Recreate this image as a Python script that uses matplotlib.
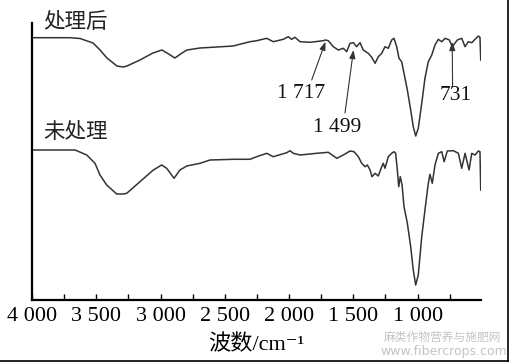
import matplotlib
matplotlib.use("Agg")
import matplotlib.pyplot as plt
from matplotlib.lines import Line2D
from matplotlib.ticker import FixedLocator, FuncFormatter

plt.rcParams['font.family'] = ['Liberation Serif', 'Noto Sans CJK SC', 'DejaVu Sans']

# ---- data (wavenumber cm^-1, transmittance in arbitrary units) ----
treated_wn = [4000, 3860, 3704, 3627, 3525, 3471, 3417, 3339, 3292, 3261, 3160, 3059,
              2989, 2950, 2888, 2833, 2794, 2693, 2561, 2436, 2304, 2252, 2174, 2123,
              2045, 2006, 1980, 1954, 1915, 1837, 1734, 1717, 1695, 1656, 1617, 1578,
              1552, 1526, 1499, 1475, 1448, 1423, 1384, 1357, 1331, 1306, 1279, 1254,
              1228, 1202, 1184, 1163, 1145, 1124, 1106, 1080, 1054, 1034, 1015, 995,
              968, 943, 917, 890, 865, 839, 812, 787, 753, 731, 691, 657, 631, 605,
              579, 553, 528, 515, 509]
treated_t = [262.3, 262.3, 262.3, 261.5, 257, 250, 242, 234, 233, 234, 240, 247,
             250, 247, 242, 247, 250, 252, 253, 254, 258.3, 259.3, 261.7, 258.3,
             260.7, 263.3, 260.7, 262.7, 258.3, 257.7, 259.3, 260, 259.3, 253.3, 250, 251.7,
             248.3, 256.7, 257.3, 253.3, 257.3, 250, 246.7, 242.7, 236.7, 243.3, 246.7, 253.3,
             251.7, 260, 261.7, 253.3, 241.7, 238.3, 226.7, 210, 190, 173.3, 164, 171.7,
             196.7, 221.7, 238.3, 245, 255, 260.7, 258.3, 261.7, 260, 253.3, 260, 261.7, 253.3, 258.3,
             257.3, 260.7, 264, 262.7, 240]

untreated_wn = [4000, 3782, 3665, 3574, 3510, 3471, 3419, 3341, 3290, 3263, 3160, 3056,
                2991, 2952, 2895, 2849, 2796, 2693, 2615, 2434, 2304, 2252, 2174, 2123,
                2018, 1993, 1967, 1915, 1785, 1695, 1629, 1578, 1526, 1495, 1461, 1435,
                1409, 1391, 1370, 1355, 1331, 1306, 1279, 1267, 1254, 1228, 1202, 1184,
                1171, 1158, 1147, 1135, 1121, 1106, 1080, 1054, 1034, 1015, 995, 968,
                943, 917, 904, 886, 865, 839, 812, 794, 769, 722, 683, 657, 631, 600,
                579, 553, 528, 515, 509]
untreated_t = [150, 150, 150, 145, 136.7, 125, 115, 106, 106, 106.7, 118.3, 130,
               135, 131.7, 121.7, 130, 134, 136.7, 140, 140.7, 140.7, 143.3, 146.7, 143.3,
               147.3, 149.3, 146.7, 145, 146.7, 147.7, 141.7, 145, 149, 148.3, 143.3, 136.7,
               133.3, 135, 130, 123.3, 126.7, 124, 133.3, 136.7, 131.7, 143.3, 146.7, 148.3,
               146.7, 130, 113.3, 123.3, 115, 93.3, 76.7, 53.3, 30, 15, 25, 63.3,
               90, 116.7, 125.7, 116.7, 135, 146.7, 148.3, 138.3, 149, 149.3, 146.7, 131.7, 146.7, 130,
               146.7, 145, 149, 148.3, 110]

major_ticks = [4000, 3500, 3000, 2500, 2000, 1500, 1000]
minor_ticks = [3750, 3250, 2750, 2250, 1750, 1250, 750]

peak_labels = ['1 717', '1 499', '731']
peak_wn = [1717, 1499, 731]
peak_tip_t = [258.3, 250, 258]
peak_start = [(1824, 220), (1565, 187), (728, 213)]
peak_text = [(1907, 207), (1627, 173), (701, 205)]

series_labels = ['处理后', '未处理']
series_label_pos = [(3914, 278), (3914, 168)]

# ---- figure ----
fig = plt.figure(figsize=(5.09, 3.62), dpi=100)
ax = fig.add_axes([32/509, 1-300/362, 449/509, 277/362])

line_color = '#333333'
ax.plot(treated_wn, treated_t, color=line_color, lw=1.1)
ax.plot(untreated_wn, untreated_t, color=line_color, lw=1.1)

ax.set_xlim(4000, 507)
ax.set_ylim(0, 277)

for s in ['top', 'right']:
    ax.spines[s].set_visible(False)
for s in ['left', 'bottom']:
    ax.spines[s].set_linewidth(1.6)
    ax.spines[s].set_color('black')

ax.set_yticks([])
ax.xaxis.set_major_locator(FixedLocator(major_ticks))
ax.xaxis.set_minor_locator(FixedLocator(minor_ticks))
ax.xaxis.set_major_formatter(FuncFormatter(lambda v, p: f"{int(v):,}".replace(',', ' ')))
ax.tick_params(axis='x', which='both', direction='in', length=4, width=1.0,
               labelsize=16, pad=5, colors='black')
ax.tick_params(axis='x', which='minor', length=4)

ax.set_xlabel('波数/cm\u207b\u00b9', fontsize=16,
              family=['Liberation Serif', 'Noto Sans CJK SC', 'DejaVu Sans'], labelpad=6)

for lab, (x, y) in zip(series_labels, series_label_pos):
    ax.text(x, y, lab, fontsize=15.5, family=['Noto Sans CJK SC'], color='#222222',
            ha='left', va='center', clip_on=False)

for lab, w, tt, st, tp in zip(peak_labels, peak_wn, peak_tip_t, peak_start, peak_text):
    ax.annotate('', xy=(w, tt), xytext=st,
                arrowprops=dict(arrowstyle='-|>,head_length=0.5,head_width=0.18',
                                lw=0.8, color='#333333', shrinkA=0, shrinkB=0))
    ax.text(tp[0], tp[1], lab, fontsize=15.5, family='Liberation Serif',
            ha='center', va='center', color='#111111')

# watermark
fig.text(443/509, 1-337/362, '麻类作物营养与施肥网', fontsize=8.5, color='#c4c4c4',
         family=['Noto Sans CJK SC'], ha='center', va='center')
fig.text(444/509, 1-351/362, 'www.fibercrops.com', fontsize=9, color='#c4c4c4',
         family=['DejaVu Sans'], ha='center', va='center')

# image frame (right and bottom edges)
fig.add_artist(Line2D([0.998, 0.998], [0, 1], transform=fig.transFigure, color='black', lw=1.2))
fig.add_artist(Line2D([0, 1], [0.002, 0.002], transform=fig.transFigure, color='black', lw=1.2))

fig.savefig('out.png', dpi=100)
